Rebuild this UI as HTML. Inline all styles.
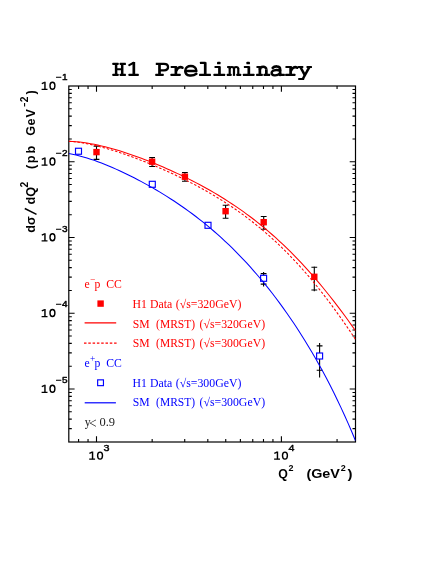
<!DOCTYPE html><html><head><meta charset="utf-8"><style>html,body{margin:0;padding:0;background:#fff}svg{display:block;will-change:transform}</style></head><body><svg width="436" height="564" viewBox="0 0 436 564">
<rect width="436" height="564" fill="#fff"/>
<g stroke="#000" stroke-width="1.2" fill="none" stroke-linecap="butt">
<rect x="68.8" y="86.0" width="286.7" height="356.0"/>
<path stroke-width="1.1" d="M78.58,442.0 v-3.0 M78.58,86.0 v3.0 M88.04,442.0 v-3.0 M88.04,86.0 v3.0 M96.50,442.0 v-5.8 M96.50,86.0 v5.8 M152.16,442.0 v-3.0 M152.16,86.0 v3.0 M184.72,442.0 v-3.0 M184.72,86.0 v3.0 M207.82,442.0 v-3.0 M207.82,86.0 v3.0 M225.74,442.0 v-3.0 M225.74,86.0 v3.0 M240.38,442.0 v-3.0 M240.38,86.0 v3.0 M252.76,442.0 v-3.0 M252.76,86.0 v3.0 M263.48,442.0 v-3.0 M263.48,86.0 v3.0 M272.94,442.0 v-3.0 M272.94,86.0 v3.0 M281.40,442.0 v-5.8 M281.40,86.0 v5.8 M337.06,442.0 v-3.0 M337.06,86.0 v3.0 M68.8,428.61 h3.0 M355.5,428.61 h-3.0 M68.8,419.14 h3.0 M355.5,419.14 h-3.0 M68.8,411.80 h3.0 M355.5,411.80 h-3.0 M68.8,405.81 h3.0 M355.5,405.81 h-3.0 M68.8,400.73 h3.0 M355.5,400.73 h-3.0 M68.8,396.34 h3.0 M355.5,396.34 h-3.0 M68.8,392.47 h3.0 M355.5,392.47 h-3.0 M68.8,389.00 h5.8 M355.5,389.00 h-5.8 M68.8,366.20 h3.0 M355.5,366.20 h-3.0 M68.8,352.86 h3.0 M355.5,352.86 h-3.0 M68.8,343.39 h3.0 M355.5,343.39 h-3.0 M68.8,336.05 h3.0 M355.5,336.05 h-3.0 M68.8,330.06 h3.0 M355.5,330.06 h-3.0 M68.8,324.98 h3.0 M355.5,324.98 h-3.0 M68.8,320.59 h3.0 M355.5,320.59 h-3.0 M68.8,316.72 h3.0 M355.5,316.72 h-3.0 M68.8,313.25 h5.8 M355.5,313.25 h-5.8 M68.8,290.45 h3.0 M355.5,290.45 h-3.0 M68.8,277.11 h3.0 M355.5,277.11 h-3.0 M68.8,267.64 h3.0 M355.5,267.64 h-3.0 M68.8,260.30 h3.0 M355.5,260.30 h-3.0 M68.8,254.31 h3.0 M355.5,254.31 h-3.0 M68.8,249.23 h3.0 M355.5,249.23 h-3.0 M68.8,244.84 h3.0 M355.5,244.84 h-3.0 M68.8,240.97 h3.0 M355.5,240.97 h-3.0 M68.8,237.50 h5.8 M355.5,237.50 h-5.8 M68.8,214.70 h3.0 M355.5,214.70 h-3.0 M68.8,201.36 h3.0 M355.5,201.36 h-3.0 M68.8,191.89 h3.0 M355.5,191.89 h-3.0 M68.8,184.55 h3.0 M355.5,184.55 h-3.0 M68.8,178.56 h3.0 M355.5,178.56 h-3.0 M68.8,173.48 h3.0 M355.5,173.48 h-3.0 M68.8,169.09 h3.0 M355.5,169.09 h-3.0 M68.8,165.22 h3.0 M355.5,165.22 h-3.0 M68.8,161.75 h5.8 M355.5,161.75 h-5.8 M68.8,138.95 h3.0 M355.5,138.95 h-3.0 M68.8,125.61 h3.0 M355.5,125.61 h-3.0 M68.8,116.14 h3.0 M355.5,116.14 h-3.0 M68.8,108.80 h3.0 M355.5,108.80 h-3.0 M68.8,102.81 h3.0 M355.5,102.81 h-3.0 M68.8,97.73 h3.0 M355.5,97.73 h-3.0 M68.8,93.34 h3.0 M355.5,93.34 h-3.0 M68.8,89.47 h3.0 M355.5,89.47 h-3.0"/>
</g>
<path stroke="#000" stroke-width="1.1" fill="none" d="M96.5,146.1 V159.4 M93.6,146.1 h5.8 M93.6,159.4 h5.8"/>
<rect x="93.30" y="148.90" width="6.4" height="6.4" fill="#f00"/>
<path stroke="#000" stroke-width="1.1" fill="none" d="M152.1,157.5 V166.5 M149.2,157.5 h5.8 M149.2,166.5 h5.8"/>
<rect x="148.90" y="158.50" width="6.4" height="6.4" fill="#f00"/>
<path stroke="#000" stroke-width="1.1" fill="none" d="M184.9,172.5 V181.3 M182.0,172.5 h5.8 M182.0,181.3 h5.8"/>
<rect x="181.70" y="173.50" width="6.4" height="6.4" fill="#f00"/>
<path stroke="#000" stroke-width="1.1" fill="none" d="M225.6,205.2 V218.3 M222.7,205.2 h5.8 M222.7,218.3 h5.8"/>
<rect x="222.40" y="208.00" width="6.4" height="6.4" fill="#f00"/>
<path stroke="#000" stroke-width="1.1" fill="none" d="M263.7,216.5 V229.2 M260.8,216.5 h5.8 M260.8,229.2 h5.8"/>
<rect x="260.50" y="219.00" width="6.4" height="6.4" fill="#f00"/>
<path stroke="#000" stroke-width="1.1" fill="none" d="M314.3,266.5 V291.3 M311.40000000000003,267.3 h5.8 M311.40000000000003,290.0 h5.8"/>
<rect x="311.10" y="273.60" width="6.4" height="6.4" fill="#f00"/>
<rect x="75.50" y="148.25" width="6.0" height="6.0" fill="#fff" stroke="#00f" stroke-width="1.15"/>
<rect x="149.30" y="181.30" width="6.0" height="6.0" fill="#fff" stroke="#00f" stroke-width="1.15"/>
<rect x="205.00" y="222.30" width="6.0" height="6.0" fill="#fff" stroke="#00f" stroke-width="1.15"/>
<path stroke="#000" stroke-width="1.1" fill="none" d="M263.6,271.9 V286.6 M260.70000000000005,273.6 h5.8 M260.70000000000005,284.1 h5.8"/>
<rect x="260.60" y="275.30" width="6.0" height="6.0" fill="#fff" stroke="#00f" stroke-width="1.15"/>
<path stroke="#000" stroke-width="1.1" fill="none" d="M319.6,343.1 V377.5 M316.70000000000005,345.9 h5.8 M316.70000000000005,370.3 h5.8"/>
<rect x="316.60" y="353.00" width="6.0" height="6.0" fill="#fff" stroke="#00f" stroke-width="1.15"/>
<clipPath id="c"><rect x="68.8" y="86.0" width="286.7" height="356.0"/></clipPath>
<g clip-path="url(#c)" fill="none" stroke-width="1.05">
<path stroke="#f00" d="M68.80,141.39 L72.43,141.53 L76.06,141.77 L79.69,142.10 L83.32,142.54 L86.95,143.06 L90.57,143.66 L94.20,144.34 L97.83,145.09 L101.46,145.90 L105.09,146.78 L108.72,147.72 L112.35,148.71 L115.98,149.76 L119.61,150.85 L123.24,151.99 L126.87,153.18 L130.49,154.40 L134.12,155.67 L137.75,156.97 L141.38,158.31 L145.01,159.69 L148.64,161.10 L152.27,162.54 L155.90,164.02 L159.53,165.54 L163.16,167.08 L166.79,168.66 L170.42,170.28 L174.04,171.93 L177.67,173.61 L181.30,175.33 L184.93,177.09 L188.56,178.88 L192.19,180.72 L195.82,182.60 L199.45,184.51 L203.08,186.48 L206.71,188.48 L210.34,190.54 L213.96,192.64 L217.59,194.79 L221.22,197.00 L224.85,199.26 L228.48,201.57 L232.11,203.95 L235.74,206.38 L239.37,208.88 L243.00,211.44 L246.63,214.07 L250.26,216.77 L253.88,219.53 L257.51,222.37 L261.14,225.28 L264.77,228.27 L268.40,231.34 L272.03,234.48 L275.66,237.71 L279.29,241.02 L282.92,244.41 L286.55,247.89 L290.18,251.45 L293.81,255.10 L297.43,258.84 L301.06,262.66 L304.69,266.58 L308.32,270.59 L311.95,274.69 L315.58,278.87 L319.21,283.15 L322.84,287.52 L326.47,291.97 L330.10,296.52 L333.73,301.15 L337.35,305.87 L340.98,310.68 L344.61,315.56 L348.24,320.53 L351.87,325.58 L355.50,330.71"/>
<path stroke="#f00" stroke-dasharray="2.5 1.8" d="M68.80,141.39 L72.43,141.53 L76.06,141.91 L79.69,142.42 L83.32,143.02 L86.95,143.70 L90.57,144.45 L94.20,145.26 L97.83,146.15 L101.46,147.09 L105.09,148.08 L108.72,149.13 L112.35,150.22 L115.98,151.36 L119.61,152.55 L123.24,153.77 L126.87,155.03 L130.49,156.33 L134.12,157.67 L137.75,159.03 L141.38,160.43 L145.01,161.86 L148.64,163.33 L152.27,164.82 L155.90,166.35 L159.53,167.90 L163.16,169.49 L166.79,171.10 L170.42,172.75 L174.04,174.44 L177.67,176.16 L181.30,177.91 L184.93,179.70 L188.56,181.52 L192.19,183.39 L195.82,185.29 L199.45,187.24 L203.08,189.23 L206.71,191.27 L210.34,193.36 L213.96,195.50 L217.59,197.69 L221.22,199.94 L224.85,202.24 L228.48,204.60 L232.11,207.02 L235.74,209.51 L239.37,212.06 L243.00,214.68 L246.63,217.38 L250.26,220.14 L253.88,222.98 L257.51,225.90 L261.14,228.89 L264.77,231.97 L268.40,235.13 L272.03,238.38 L275.66,241.72 L279.29,245.14 L282.92,248.66 L286.55,252.27 L290.18,255.97 L293.81,259.77 L297.43,263.66 L301.06,267.66 L304.69,271.75 L308.32,275.94 L311.95,280.23 L315.58,284.62 L319.21,289.11 L322.84,293.70 L326.47,298.39 L330.10,303.18 L333.73,308.08 L337.35,313.07 L340.98,318.15 L344.61,323.33 L348.24,328.61 L351.87,333.98 L355.50,339.44"/>
<path stroke="#00f" d="M68.80,153.58 L72.43,154.24 L76.06,155.02 L79.69,155.90 L83.32,156.89 L86.95,157.97 L90.57,159.13 L94.20,160.36 L97.83,161.67 L101.46,163.05 L105.09,164.48 L108.72,165.98 L112.35,167.53 L115.98,169.13 L119.61,170.77 L123.24,172.47 L126.87,174.21 L130.49,176.00 L134.12,177.83 L137.75,179.71 L141.38,181.63 L145.01,183.59 L148.64,185.60 L152.27,187.66 L155.90,189.77 L159.53,191.92 L163.16,194.12 L166.79,196.38 L170.42,198.69 L174.04,201.05 L177.67,203.47 L181.30,205.95 L184.93,208.50 L188.56,211.10 L192.19,213.77 L195.82,216.50 L199.45,219.31 L203.08,222.18 L206.71,225.13 L210.34,228.16 L213.96,231.26 L217.59,234.44 L221.22,237.70 L224.85,241.04 L228.48,244.47 L232.11,247.99 L235.74,251.60 L239.37,255.30 L243.00,259.09 L246.63,262.98 L250.26,266.96 L253.88,271.05 L257.51,275.23 L261.14,279.52 L264.77,283.92 L268.40,288.43 L272.03,293.05 L275.66,297.78 L279.29,302.64 L282.92,307.61 L286.55,312.71 L290.18,317.94 L293.81,323.30 L297.43,328.79 L301.06,334.43 L304.69,340.22 L308.32,346.16 L311.95,352.25 L315.58,358.51 L319.21,364.95 L322.84,371.56 L326.47,378.36 L330.10,385.35 L333.73,392.56 L337.35,399.97 L340.98,407.62 L344.61,415.50 L348.24,423.64 L351.87,432.04 L355.50,440.72"/>
</g>
<g fill="none" stroke="#000"><path d="M116.10,63.30 V75.40" stroke-width="2.5"/><path d="M122.20,63.30 V75.40" stroke-width="2.5"/><rect x="112.40" y="62.80" width="6.20" height="2.10" rx="0.5" fill="#000" stroke="none"/><rect x="119.70" y="62.80" width="6.20" height="2.10" rx="0.5" fill="#000" stroke="none"/><rect x="112.40" y="73.80" width="6.20" height="2.10" rx="0.5" fill="#000" stroke="none"/><rect x="119.70" y="73.80" width="6.20" height="2.10" rx="0.5" fill="#000" stroke="none"/><rect x="116.15" y="68.30" width="6.00" height="2.00" rx="0.5" fill="#000" stroke="none"/><path d="M133.83,62.00 V75.40" stroke-width="2.7"/><rect x="128.53" y="73.80" width="10.20" height="2.10" rx="0.5" fill="#000" stroke="none"/><path d="M133.63,62.80 L129.23,65.10" stroke-width="2.1" stroke-linecap="round" stroke-linejoin="round"/><path d="M159.49,63.30 V75.40" stroke-width="2.7"/><rect x="155.29" y="73.80" width="8.40" height="2.10" rx="0.5" fill="#000" stroke="none"/><path d="M155.79,63.80 H163.99 C169.39,63.80 169.39,70.40 163.99,70.40 H159.49" stroke-width="2.3" stroke-linecap="butt" stroke-linejoin="round"/><path d="M175.87,66.40 V75.40" stroke-width="2.7"/><rect x="170.47" y="73.80" width="10.20" height="2.10" rx="0.5" fill="#000" stroke="none"/><rect x="170.67" y="65.90" width="6.20" height="2.10" rx="0.5" fill="#000" stroke="none"/><path d="M176.47,70.30 C177.57,67.30 180.17,66.40 182.37,67.70" stroke-width="2.7" stroke-linecap="round" stroke-linejoin="round"/><path d="M290.61,66.40 V75.40" stroke-width="2.7"/><rect x="285.21" y="73.80" width="10.20" height="2.10" rx="0.5" fill="#000" stroke="none"/><rect x="285.41" y="65.90" width="6.20" height="2.10" rx="0.5" fill="#000" stroke="none"/><path d="M291.21,70.30 C292.31,67.30 294.91,66.40 297.11,67.70" stroke-width="2.7" stroke-linecap="round" stroke-linejoin="round"/><path d="M185.45,70.90 H196.35 C196.35,64.50 185.25,64.50 185.25,70.90 C185.25,77.00 193.35,76.10 196.35,73.70" stroke-width="2.5" stroke-linecap="round" stroke-linejoin="round"/><path d="M205.23,62.30 V75.40" stroke-width="2.7"/><rect x="199.13" y="73.80" width="11.80" height="2.10" rx="0.5" fill="#000" stroke="none"/><rect x="199.93" y="61.80" width="5.90" height="2.10" rx="0.5" fill="#000" stroke="none"/><path d="M219.46,66.40 V75.40" stroke-width="2.7"/><rect x="213.51" y="73.80" width="11.60" height="2.10" rx="0.5" fill="#000" stroke="none"/><rect x="214.51" y="65.90" width="5.60" height="2.10" rx="0.5" fill="#000" stroke="none"/><rect x="217.01" y="61.70" width="3.6" height="2.6" rx="0.9" fill="#000" stroke="none"/><path d="M248.82,66.40 V75.40" stroke-width="2.7"/><rect x="242.87" y="73.80" width="11.60" height="2.10" rx="0.5" fill="#000" stroke="none"/><rect x="243.87" y="65.90" width="5.60" height="2.10" rx="0.5" fill="#000" stroke="none"/><rect x="246.37" y="61.70" width="3.6" height="2.6" rx="0.9" fill="#000" stroke="none"/><path d="M229.69,66.70 V75.40" stroke-width="2.2"/><path d="M233.99,68.40 V75.90" stroke-width="2.2"/><path d="M238.29,68.40 V75.40" stroke-width="2.2"/><rect x="226.79" y="73.80" width="4.80" height="2.10" rx="0.5" fill="#000" stroke="none"/><rect x="236.39" y="73.80" width="4.80" height="2.10" rx="0.5" fill="#000" stroke="none"/><rect x="227.09" y="65.90" width="3.30" height="2.10" rx="0.5" fill="#000" stroke="none"/><path d="M229.69,69.10 C229.69,66.30 233.99,66.30 233.99,69.10 C233.99,66.30 238.29,66.30 238.29,69.10" stroke-width="2.1" stroke-linecap="butt" stroke-linejoin="round"/><path d="M259.85,66.70 V75.40" stroke-width="2.7"/><path d="M266.35,69.40 V75.40" stroke-width="2.7"/><rect x="256.15" y="73.80" width="6.60" height="2.10" rx="0.5" fill="#000" stroke="none"/><rect x="263.55" y="73.80" width="6.60" height="2.10" rx="0.5" fill="#000" stroke="none"/><rect x="256.45" y="65.90" width="4.10" height="2.10" rx="0.5" fill="#000" stroke="none"/><path d="M259.85,69.60 C260.05,66.00 266.35,65.60 266.35,69.60" stroke-width="2.5" stroke-linecap="butt" stroke-linejoin="round"/><path d="M272.73,67.90 C274.03,66.30 280.13,65.10 280.13,69.30 V74.90" stroke-width="2.6" stroke-linecap="round" stroke-linejoin="round"/><path d="M280.13,70.50 C275.73,69.40 271.63,70.20 271.63,73.00 C271.63,75.90 276.73,76.20 280.13,73.50" stroke-width="2.4" stroke-linecap="round" stroke-linejoin="round"/><rect x="279.43" y="73.80" width="5.40" height="2.10" rx="0.5" fill="#000" stroke="none"/><rect x="297.79" y="65.90" width="5.50" height="2.10" rx="0.5" fill="#000" stroke="none"/><rect x="306.49" y="65.90" width="5.50" height="2.10" rx="0.5" fill="#000" stroke="none"/><path d="M300.29,66.90 L305.09,75.60" stroke-width="2.5" stroke-linecap="butt" stroke-linejoin="round"/><path d="M309.49,66.90 L302.49,79.50" stroke-width="2.5" stroke-linecap="butt" stroke-linejoin="round"/><rect x="298.19" y="77.90" width="6.00" height="2.10" rx="0.5" fill="#000" stroke="none"/></g>
<path fill="none" stroke="#000" stroke-width="1.45" d="M44.95,81.70 V89.40"/>
<path fill="none" stroke="#000" stroke-width="1.3" d="M41.60,89.35 H47.50 M41.80,83.60 L44.65,82.35"/>
<ellipse cx="52.45" cy="85.80" rx="2.45" ry="3.5" fill="none" stroke="#000" stroke-width="1.4"/>
<text x="56.1" y="80.0" font-family="Liberation Sans, sans-serif" stroke="#000" stroke-linejoin="round" stroke-width="0.4" font-size="8.4" textLength="11.4" lengthAdjust="spacingAndGlyphs">−1</text>
<path fill="none" stroke="#000" stroke-width="1.45" d="M44.95,157.45 V165.15"/>
<path fill="none" stroke="#000" stroke-width="1.3" d="M41.60,165.10 H47.50 M41.80,159.35 L44.65,158.10"/>
<ellipse cx="52.45" cy="161.55" rx="2.45" ry="3.5" fill="none" stroke="#000" stroke-width="1.4"/>
<text x="56.1" y="155.75" font-family="Liberation Sans, sans-serif" stroke="#000" stroke-linejoin="round" stroke-width="0.4" font-size="8.4" textLength="11.4" lengthAdjust="spacingAndGlyphs">−2</text>
<path fill="none" stroke="#000" stroke-width="1.45" d="M44.95,233.20 V240.90"/>
<path fill="none" stroke="#000" stroke-width="1.3" d="M41.60,240.85 H47.50 M41.80,235.10 L44.65,233.85"/>
<ellipse cx="52.45" cy="237.30" rx="2.45" ry="3.5" fill="none" stroke="#000" stroke-width="1.4"/>
<text x="56.1" y="231.5" font-family="Liberation Sans, sans-serif" stroke="#000" stroke-linejoin="round" stroke-width="0.4" font-size="8.4" textLength="11.4" lengthAdjust="spacingAndGlyphs">−3</text>
<path fill="none" stroke="#000" stroke-width="1.45" d="M44.95,308.95 V316.65"/>
<path fill="none" stroke="#000" stroke-width="1.3" d="M41.60,316.60 H47.50 M41.80,310.85 L44.65,309.60"/>
<ellipse cx="52.45" cy="313.05" rx="2.45" ry="3.5" fill="none" stroke="#000" stroke-width="1.4"/>
<text x="56.1" y="307.25" font-family="Liberation Sans, sans-serif" stroke="#000" stroke-linejoin="round" stroke-width="0.4" font-size="8.4" textLength="11.4" lengthAdjust="spacingAndGlyphs">−4</text>
<path fill="none" stroke="#000" stroke-width="1.45" d="M44.95,384.70 V392.40"/>
<path fill="none" stroke="#000" stroke-width="1.3" d="M41.60,392.35 H47.50 M41.80,386.60 L44.65,385.35"/>
<ellipse cx="52.45" cy="388.80" rx="2.45" ry="3.5" fill="none" stroke="#000" stroke-width="1.4"/>
<text x="56.1" y="383.0" font-family="Liberation Sans, sans-serif" stroke="#000" stroke-linejoin="round" stroke-width="0.4" font-size="8.4" textLength="11.4" lengthAdjust="spacingAndGlyphs">−5</text>
<path fill="none" stroke="#000" stroke-width="1.45" d="M92.55,451.50 V459.20"/>
<path fill="none" stroke="#000" stroke-width="1.3" d="M89.20,459.15 H95.10 M89.40,453.40 L92.25,452.15"/>
<ellipse cx="100.05" cy="455.60" rx="2.45" ry="3.5" fill="none" stroke="#000" stroke-width="1.4"/>
<text x="103.6" y="451.4" font-family="Liberation Sans, sans-serif" stroke="#000" stroke-linejoin="round" stroke-width="0.4" font-size="9.0" textLength="6.0" lengthAdjust="spacingAndGlyphs">3</text>
<path fill="none" stroke="#000" stroke-width="1.45" d="M277.45,451.50 V459.20"/>
<path fill="none" stroke="#000" stroke-width="1.3" d="M274.10,459.15 H280.00 M274.30,453.40 L277.15,452.15"/>
<ellipse cx="284.95" cy="455.60" rx="2.45" ry="3.5" fill="none" stroke="#000" stroke-width="1.4"/>
<text x="288.4" y="451.4" font-family="Liberation Sans, sans-serif" stroke="#000" stroke-linejoin="round" stroke-width="0.4" font-size="9.0" textLength="6.0" lengthAdjust="spacingAndGlyphs">4</text>
<text x="278.2" y="477.9" font-family="Liberation Sans, sans-serif" font-weight="bold" font-size="12.5" textLength="9.6" lengthAdjust="spacingAndGlyphs">Q</text>
<text x="288.5" y="470.8" font-family="Liberation Sans, sans-serif" font-weight="bold" font-size="9" textLength="5" lengthAdjust="spacingAndGlyphs">2</text>
<text x="306.4" y="477.7" font-family="Liberation Sans, sans-serif" font-weight="bold" font-size="12.3" textLength="33.5" lengthAdjust="spacingAndGlyphs">(GeV</text>
<text x="340.8" y="470.8" font-family="Liberation Sans, sans-serif" font-weight="bold" font-size="9" textLength="5" lengthAdjust="spacingAndGlyphs">2</text>
<text x="347.5" y="477.7" font-family="Liberation Sans, sans-serif" font-weight="bold" font-size="12.3" textLength="5" lengthAdjust="spacingAndGlyphs">)</text>
<g transform="translate(35.3,232.6) rotate(-90)">
<text x="-0.2" y="0" font-family="Liberation Sans, sans-serif" font-weight="bold" font-size="12.7">d</text>
<text x="7.6" y="0" font-family="Liberation Sans, sans-serif" font-weight="bold" font-size="12.7">σ</text>
<path d="M18.3,1.2 L24.1,-10.5" stroke="#000" stroke-width="1.5" fill="none"/>
<text x="28.1" y="0" font-family="Liberation Sans, sans-serif" font-weight="bold" font-size="12.7">d</text>
<text x="35.8" y="0" font-family="Liberation Sans, sans-serif" font-weight="bold" font-size="12.7">Q</text>
<text x="45.0" y="-7.1" font-family="Liberation Sans, sans-serif" font-weight="bold" font-size="10.3">2</text>
<text x="63.6" y="0" font-family="Liberation Sans, sans-serif" font-weight="bold" font-size="12.7">(</text>
<text x="69.3" y="0" font-family="Liberation Sans, sans-serif" font-weight="bold" font-size="12.7">p</text>
<text x="79.0" y="0" font-family="Liberation Sans, sans-serif" font-weight="bold" font-size="12.7">b</text>
<text x="96.9" y="0" font-family="Liberation Sans, sans-serif" font-weight="bold" font-size="12.7">G</text>
<text x="107.0" y="0" font-family="Liberation Sans, sans-serif" font-weight="bold" font-size="12.7">e</text>
<text x="115.2" y="0" font-family="Liberation Sans, sans-serif" font-weight="bold" font-size="12.7">V</text>
<text x="125.6" y="-7.1" font-family="Liberation Sans, sans-serif" font-weight="bold" font-size="10.3" textLength="4.2" lengthAdjust="spacingAndGlyphs">−</text>
<text x="130.3" y="-7.1" font-family="Liberation Sans, sans-serif" font-weight="bold" font-size="10.3">2</text>
<text x="138.2" y="0" font-family="Liberation Sans, sans-serif" font-weight="bold" font-size="12.7">)</text>
</g>
<text x="84.4" y="287.9" font-family="Liberation Serif, serif" font-size="11.7" fill="#f00" xml:space="preserve">e</text>
<text x="89.9" y="283.2" font-family="Liberation Serif, serif" font-size="9.3" fill="#f00">−</text>
<text x="94.5" y="287.9" font-family="Liberation Serif, serif" font-size="11.7" fill="#f00" xml:space="preserve">p</text>
<text x="106.3" y="287.9" font-family="Liberation Serif, serif" font-size="11.7" fill="#f00" xml:space="preserve">CC</text>
<text x="84.4" y="367.0" font-family="Liberation Serif, serif" font-size="11.7" fill="#00f" xml:space="preserve">e</text>
<text x="89.9" y="362.3" font-family="Liberation Serif, serif" font-size="9.3" fill="#00f">+</text>
<text x="94.5" y="367.0" font-family="Liberation Serif, serif" font-size="11.7" fill="#00f" xml:space="preserve">p</text>
<text x="106.3" y="367.0" font-family="Liberation Serif, serif" font-size="11.7" fill="#00f" xml:space="preserve">CC</text>
<text x="132.6" y="307.8" font-family="Liberation Serif, serif" font-size="11.7" fill="#f00" textLength="39.6" lengthAdjust="spacingAndGlyphs" xml:space="preserve">H1 Data</text>
<text x="175.8" y="307.8" font-family="Liberation Serif, serif" font-size="11.7" fill="#f00" textLength="65.6" lengthAdjust="spacingAndGlyphs" xml:space="preserve">(√s=320GeV)</text>
<text x="132.7" y="327.5" font-family="Liberation Serif, serif" font-size="11.7" fill="#f00" xml:space="preserve">SM</text>
<text x="156.1" y="327.5" font-family="Liberation Serif, serif" font-size="11.7" fill="#f00" textLength="39.0" lengthAdjust="spacingAndGlyphs" xml:space="preserve">(MRST)</text>
<text x="199.5" y="327.5" font-family="Liberation Serif, serif" font-size="11.7" fill="#f00" textLength="65.6" lengthAdjust="spacingAndGlyphs" xml:space="preserve">(√s=320GeV)</text>
<text x="132.7" y="347.2" font-family="Liberation Serif, serif" font-size="11.7" fill="#f00" xml:space="preserve">SM</text>
<text x="156.1" y="347.2" font-family="Liberation Serif, serif" font-size="11.7" fill="#f00" textLength="39.0" lengthAdjust="spacingAndGlyphs" xml:space="preserve">(MRST)</text>
<text x="199.5" y="347.2" font-family="Liberation Serif, serif" font-size="11.7" fill="#f00" textLength="65.6" lengthAdjust="spacingAndGlyphs" xml:space="preserve">(√s=300GeV)</text>
<text x="132.6" y="386.6" font-family="Liberation Serif, serif" font-size="11.7" fill="#00f" textLength="39.6" lengthAdjust="spacingAndGlyphs" xml:space="preserve">H1 Data</text>
<text x="175.8" y="386.6" font-family="Liberation Serif, serif" font-size="11.7" fill="#00f" textLength="65.6" lengthAdjust="spacingAndGlyphs" xml:space="preserve">(√s=300GeV)</text>
<text x="132.7" y="406.0" font-family="Liberation Serif, serif" font-size="11.7" fill="#00f" xml:space="preserve">SM</text>
<text x="156.1" y="406.0" font-family="Liberation Serif, serif" font-size="11.7" fill="#00f" textLength="39.0" lengthAdjust="spacingAndGlyphs" xml:space="preserve">(MRST)</text>
<text x="199.5" y="406.0" font-family="Liberation Serif, serif" font-size="11.7" fill="#00f" textLength="65.6" lengthAdjust="spacingAndGlyphs" xml:space="preserve">(√s=300GeV)</text>
<text x="84.7" y="425.7" font-family="Liberation Serif, serif" font-size="11.7" fill="#222" xml:space="preserve">y</text>
<text x="89.0" y="427.8" font-family="Liberation Serif, serif" font-size="13.6" fill="#222">&lt;</text>
<text x="99.5" y="425.7" font-family="Liberation Serif, serif" font-size="11.7" fill="#222" textLength="15.6" lengthAdjust="spacingAndGlyphs" xml:space="preserve">0.9</text>
<rect x="97.4" y="300.4" width="6.4" height="6.4" fill="#f00"/>
<path d="M84.6,322.8 H116.2" stroke="#f00" stroke-width="1.2"/>
<path d="M84.0,343.2 H116.8" stroke="#f00" stroke-width="1.2" stroke-dasharray="2.5 1.8"/>
<rect x="97.65" y="379.85" width="5.8" height="5.8" fill="#fff" stroke="#00f" stroke-width="1.15"/>
<path d="M84.7,402.8 H115.9" stroke="#00f" stroke-width="1.2"/>
</svg></body></html>
